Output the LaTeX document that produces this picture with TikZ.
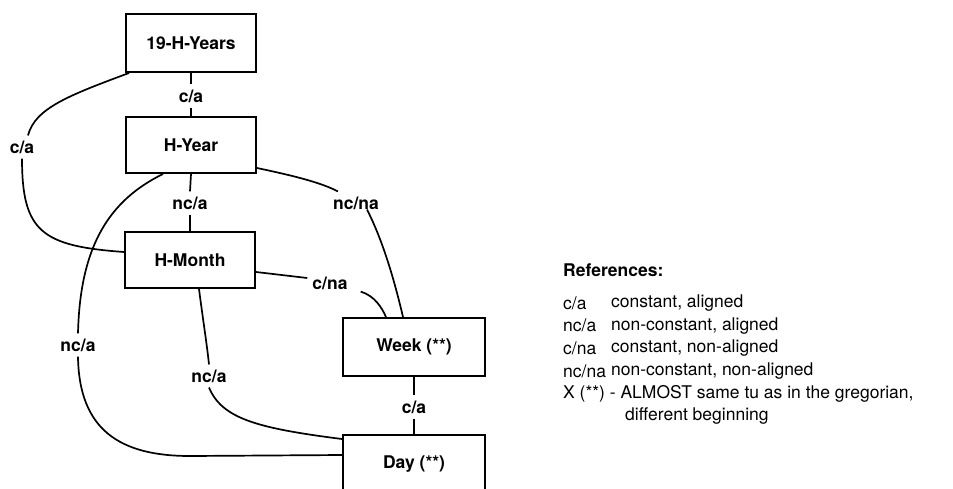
\documentclass[tikz,border=0pt]{standalone}
\usepackage{fontspec}
\setmainfont{TeX Gyre Heros}
\begin{document}
\begin{tikzpicture}[x=1pt,y=-1pt,
  unit/.style={draw, line width=2pt, minimum width=130pt, minimum height=56pt,
    inner sep=0pt, font=\fontsize{17.5}{20}\selectfont\bfseries},
  rel/.style={inner sep=5pt, font=\fontsize{17.5}{20}\selectfont\bfseries},
  link/.style={line width=1.7pt},
  legend/.style={anchor=west, inner sep=0pt, font=\fontsize{17.5}{20}\selectfont}]
\clip (0,0) rectangle (953,488);

% time units
\node[unit, minimum height=58pt] (yrs)    at (191,43)  {19-H-Years};
\node[unit]                      (hyear)  at (191,145) {H-Year};
\node[unit]                      (hmonth) at (190,260) {H-Month};
\node[unit, minimum width=142pt, minimum height=58pt] (week) at (414,347) {Week (**)};
\node[unit, minimum width=142pt, minimum height=58pt] (day)  at (414,464) {Day (**)};

% relation labels
\node[rel] (l1) at (191,96)  {c/a};
\node[rel] (l2) at (22,147)  {c/a};
\node[rel] (l3) at (190,203) {nc/a};
\node[rel] (l4) at (356,203) {nc/na};
\node[rel] (l5) at (330,283) {c/na};
\node[rel] (l6) at (78,345)  {nc/a};
\node[rel] (l7) at (209,376) {nc/a};
\node[rel] (l8) at (414,407) {c/a};

% 19-H-Years -- H-Year
\draw[link] (yrs.south) -- (l1.north);
\draw[link] (l1.south) -- (hyear.north);
% 19-H-Years -- H-Month
\draw[link] ([xshift=4pt]yrs.south west) .. controls (70,95) and (35,108) .. ([xshift=6pt]l2.north);
\draw[link] (l2.south) .. controls (22,232) and (42,246) .. ([yshift=8pt]hmonth.west);
% H-Year -- H-Month
\draw[link] (hyear.south) -- (l3.north);
\draw[link] (l3.south) -- (hmonth.north);
% H-Year -- Day
\draw[link] ([xshift=-28pt]hyear.south) .. controls (110,200) and (80,245) .. (l6.north);
\draw[link] (l6.south) .. controls (79,430) and (120,456) .. (190,456) -- ([yshift=9pt]day.west);
% H-Year -- Week
\draw[link] ([yshift=-23pt]hyear.east) .. controls (290,175) and (320,182) .. ([xshift=10pt]l4.north west);
\draw[link] ([xshift=11pt,yshift=5pt]l4.south) .. controls (380,235) and (392,270) .. ([xshift=-11pt]week.north);
% H-Month -- Week
\draw[link] ([yshift=-12pt]hmonth.east) -- ([yshift=5pt]l5.west);
\draw[link] ([xshift=8pt,yshift=3pt]l5.south east) .. controls (375,296) and (382,308) .. ([xshift=-28pt]week.north);
% H-Month -- Day
\draw[link] ([xshift=9pt]hmonth.south) .. controls (203,320) and (207,345) .. (l7.north);
\draw[link] (l7.south) .. controls (222,418) and (255,428) .. ([yshift=-5pt]day.north west);
% Week -- Day
\draw[link] (week.south) -- (l8.north);
\draw[link] (l8.south) -- (day.north);

% legend
\node[legend, font=\fontsize{17.5}{20}\selectfont\bfseries] (refs) at (563,270) {References:};
\node[legend] (k1) at (563,303)   {c/a};
\node[legend] (d1) at (611,303)   {constant, aligned};
\node[legend] (k2) at (563,325.6) {nc/a};
\node[legend] (d2) at (611,325.6) {non-constant, aligned};
\node[legend] (k3) at (563,348.2) {c/na};
\node[legend] (d3) at (611,348.2) {constant, non-aligned};
\node[legend] (k4) at (563,370.8) {nc/na};
\node[legend] (d4) at (611,370.8) {non-constant, non-aligned};
\node[legend] (k5) at (563,393.4) {X (**) - ALMOST same tu as in the gregorian,};
\node[legend] (d5) at (625,416)   {different beginning};
\end{tikzpicture}
\end{document}
